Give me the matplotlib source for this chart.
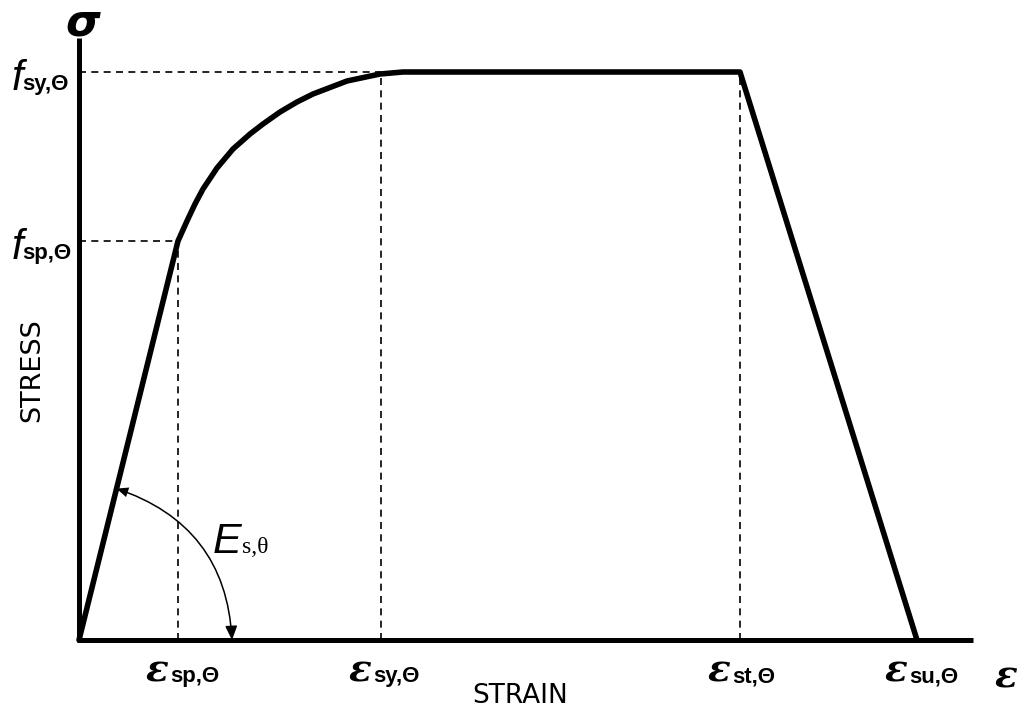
import numpy as np
import matplotlib.pyplot as plt

# Stress-strain relationship of steel at elevated temperature (schematic)
strain_curve = [0.99, 1.08, 1.16, 1.24, 1.38, 1.54, 1.71, 1.84, 2.01, 2.18, 2.34, 2.68, 3.01, 3.24]
stress_curve = [3.99, 4.19, 4.36, 4.51, 4.72, 4.91, 5.06, 5.16, 5.28, 5.38, 5.46, 5.59, 5.66, 5.68]

eps_sp, eps_sy, eps_st, eps_su = 0.99, 3.02, 6.61, 8.38
f_sp, f_sy = 3.99, 5.68

strain = [0.0] + strain_curve + [eps_st, eps_su]
stress = [0.0] + stress_curve + [f_sy, 0.0]

eps_ticks = [eps_sp, eps_sy, eps_st, eps_su]
eps_subs = ['sp,Θ', 'sy,Θ', 'st,Θ', 'su,Θ']
f_ticks = [f_sp, f_sy]
f_subs = ['sp,Θ', 'sy,Θ']

SANS = 'Liberation Sans'

fig = plt.figure(figsize=(10.2, 7.08), dpi=100)
ax = fig.add_axes([0, 0, 1, 1])
ax.set_xlim(-0.79, 9.41)
ax.set_ylim(-0.68, 6.40)
ax.axis('off')

# axes drawn as heavy lines
ax.plot([0, 0], [0, 6.02], color='black', lw=3.6, solid_capstyle='butt')
ax.plot([-0.02, 8.94], [0, 0], color='black', lw=3.6, solid_capstyle='butt')

# guide lines
dash = dict(color='black', lw=1.2, ls=(0, (4.2, 3.2)))
ax.plot([0, eps_sp], [f_sp, f_sp], **dash)
ax.plot([0, eps_sy], [f_sy, f_sy], **dash)
ax.plot([eps_sp, eps_sp], [0, f_sp], **dash)
ax.plot([eps_sy, eps_sy], [0, f_sy], **dash)
ax.plot([eps_st, eps_st], [0, f_sy], **dash)

# the stress-strain curve
ax.plot(strain, stress, color='black', lw=4.0, solid_capstyle='round',
        solid_joinstyle='round')

# modulus arc between the elastic branch and the strain axis
r = 1.56
d = np.hypot(eps_sp, f_sp)
p_line = (r * eps_sp / d, r * f_sp / d)
p_axis = (r - 0.03, 0.0)
ax.annotate('', xy=p_axis, xytext=p_line,
            arrowprops=dict(arrowstyle='-|>,head_length=0.42,head_width=0.18',
                            mutation_scale=20, lw=1.1, color='black',
                            shrinkA=0, shrinkB=0,
                            connectionstyle='arc3,rad=-0.34'))
ax.annotate('', xy=p_line, xytext=p_axis,
            arrowprops=dict(arrowstyle='-|>,head_length=0.42,head_width=0.18',
                            mutation_scale=20, lw=0, color='black',
                            shrinkA=0, shrinkB=0,
                            connectionstyle='arc3,rad=0.34'))
ax.text(1.34, 0.87, 'E', family=SANS, style='italic', fontsize=31,
        ha='left', va='baseline')
ax.text(1.63, 0.87, 's,θ', family='Liberation Serif', fontsize=17,
        ha='left', va='baseline')

# stress labels
for fv, sub in zip(f_ticks, f_subs):
    base = fv - 0.18
    ax.text(-0.67, base, 'f', family=SANS, style='italic', fontsize=30,
            ha='left', va='baseline')
    ax.text(-0.565, base, sub, family=SANS, weight='bold', fontsize=16,
            ha='left', va='baseline')

# strain labels
for ev, sub in zip(eps_ticks, eps_subs):
    ax.text(ev - 0.32, -0.42, 'ε', family='DejaVu Serif', weight='bold',
            style='italic', fontsize=27, ha='left', va='baseline')
    ax.text(ev - 0.08, -0.42, sub, family=SANS, weight='bold', fontsize=16,
            ha='left', va='baseline')

ax.text(9.16, -0.48, 'ε', family='DejaVu Serif', weight='bold',
        style='italic', fontsize=27, ha='left', va='baseline')
ax.text(0.04, 6.17, 'σ', family='DejaVu Sans', weight='bold', style='italic',
        fontsize=32, ha='center', va='center')

ax.text(-0.47, 2.70, 'STRESS', family='DejaVu Sans', fontsize=19.5,
        rotation=90, ha='center', va='center')
ax.text(4.41, -0.56, 'STRAIN', family='DejaVu Sans', fontsize=19,
        ha='center', va='center')

fig.savefig('out.png', dpi=100, facecolor='white')
